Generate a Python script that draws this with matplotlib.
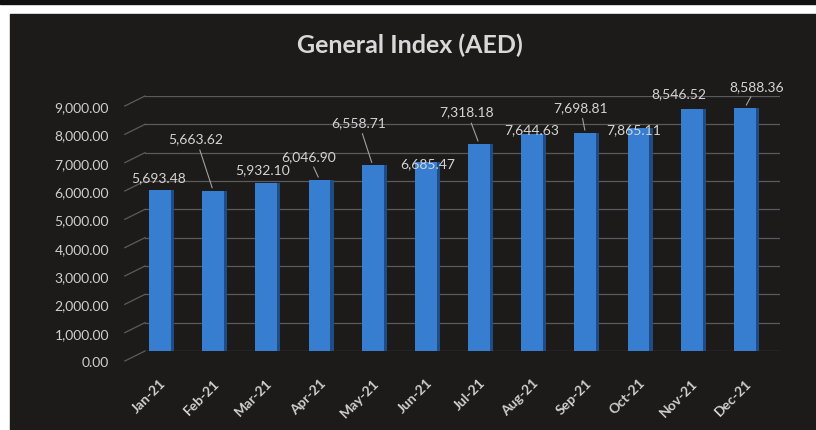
import matplotlib
matplotlib.use("Agg")
import matplotlib.pyplot as plt
import matplotlib.transforms as mtransforms
from matplotlib.patches import Rectangle

plt.rcParams['font.family'] = ['Lato', 'DejaVu Sans']

months = ["Jan-21", "Feb-21", "Mar-21", "Apr-21", "May-21", "Jun-21",
          "Jul-21", "Aug-21", "Sep-21", "Oct-21", "Nov-21", "Dec-21"]
index_values = [5693.48, 5663.62, 5932.10, 6046.90, 6558.71, 6685.47,
                7318.18, 7644.63, 7698.81, 7865.11, 8546.52, 8588.36]
y_ticks = [0, 1000, 2000, 3000, 4000, 5000, 6000, 7000, 8000, 9000]

# label offsets (px) from bar top, and whether a leader line is drawn
label_offsets = [(-1, 13), (-17, 52), (-4, 14), (-11, 24), (-14, 43), (2, -2),
                 (-12, 32), (0, 5), (-5, 26), (-5, -1), (-13, 16), (12, 22)]
leaders = [False, True, False, True, True, False,
           True, False, True, False, False, True]

W, H = 816, 431
fig = plt.figure(figsize=(W / 100, H / 100), dpi=100)
fig.patch.set_facecolor("white")

# dark photo background + black strip at the top
fig.add_artist(Rectangle((10 / W, 0), 1, (H - 15) / H, transform=fig.transFigure,
                         color="#1d1a1a", zorder=-10))
fig.add_artist(Rectangle((0, (H - 5) / H), 1, 5 / H, transform=fig.transFigure,
                         color="#111111", zorder=-10))

ax = fig.add_axes([145 / W, (H - 352) / H, 635 / W, 255 / H])
ax.set_facecolor("none")

x = list(range(len(months)))
ax.set_xlim(-0.28, 11.66)
ax.set_ylim(0, 9000)

# back-wall gridlines
for v in y_ticks:
    ax.axhline(v, color="#9a9a9a", lw=0.9, alpha=0.5, zorder=1)
    # perspective stubs joining the labels to the back wall
    ax.plot([-0.66, -0.28], [v - 353, v], color="#9a9a9a", lw=0.9, alpha=0.5,
            clip_on=False, zorder=1)

# bars with a darker side face
ax.bar([i + 0.23 for i in x], index_values, width=0.07, color="#1f4c85", zorder=2)
ax.bar(x, index_values, width=0.41, color="#377dd0", zorder=3)

for i, v in enumerate(index_values):
    dx, dy = label_offsets[i]
    props = dict(arrowstyle="-", color="#a0a0a0", lw=0.8) if leaders[i] else None
    ax.annotate(f"{v:,.2f}", xy=(i, v), xytext=(dx * 0.72, dy * 0.72),
                textcoords="offset points", ha="center", va="center",
                fontsize=10, color="#d4d4d4", arrowprops=props, zorder=5,
                annotation_clip=False)

ax.set_yticks(y_ticks)
ax.set_yticklabels([f"{v:,.2f}" for v in y_ticks])
ax.tick_params(axis="y", length=0, pad=26, labelsize=10, labelcolor="#cfcfcf")

ax.set_xticks(x)
ax.set_xticklabels(months, rotation=45, ha="right", rotation_mode="anchor",
                   fontsize=10, color="#cfcfcf", fontweight="bold")
ax.tick_params(axis="x", length=0, pad=18)

for s in ax.spines.values():
    s.set_visible(False)

fig.text(410 / W, 1 - 45 / H, "General Index (AED)", ha="center", va="center",
         fontsize=18, fontweight="bold", color="#d8d8d8")

# y labels sit on the front edge, a little below the back-wall gridlines
fig.canvas.draw()
offset = mtransforms.ScaledTranslation(0, -10 / 100, fig.dpi_scale_trans)
for tick in ax.yaxis.get_major_ticks():
    tick.label1.set_transform(tick.label1.get_transform() + offset)

fig.savefig("out.png", dpi=100)
